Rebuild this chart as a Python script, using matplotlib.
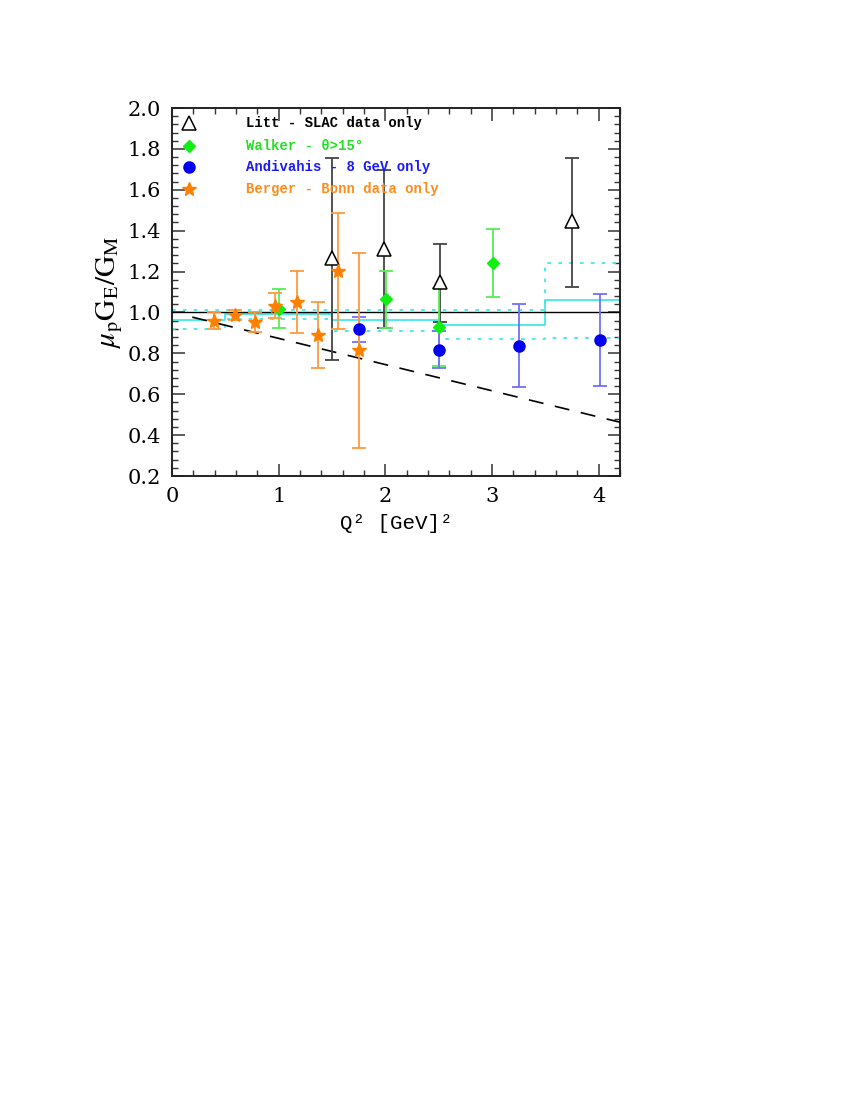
import matplotlib
matplotlib.use("Agg")
import matplotlib.pyplot as plt
from matplotlib.ticker import MultipleLocator

plt.rcParams["mathtext.fontset"] = "stix"

# ---------------- data ----------------
litt_q2 = [1.50, 1.99, 2.51, 3.75]
litt_r = [1.267, 1.31, 1.149, 1.447]
litt_lo = [0.768, 0.924, 0.953, 1.125]
litt_hi = [1.755, 1.697, 1.335, 1.755]

walker_q2 = [1.00, 2.01, 2.50, 3.01]
walker_r = [1.015, 1.066, 0.93, 1.24]
walker_lo = [0.924, 0.926, 0.74, 1.074]
walker_hi = [1.115, 1.205, 1.12, 1.408]

andi_q2 = [1.75, 2.50, 3.25, 4.01]
andi_r = [0.919, 0.817, 0.836, 0.865]
andi_lo = [0.853, 0.727, 0.634, 0.640]
andi_hi = [0.980, 0.909, 1.040, 1.089]

berger_q2 = [0.39, 0.59, 0.78, 0.97, 1.17, 1.37, 1.56, 1.75]
berger_r = [0.960, 0.987, 0.952, 1.032, 1.050, 0.890, 1.205, 0.817]
berger_lo = [0.919, 0.963, 0.903, 0.974, 0.898, 0.729, 0.921, 0.339]
berger_hi = [1.000, 1.014, 1.000, 1.094, 1.201, 1.052, 1.488, 1.292]

# global fit band (step histogram)
bin_edges = [0.0, 0.5, 1.5, 2.5, 3.5, 4.2]
fit_central = [0.963, 0.990, 0.963, 0.940, 1.060]
fit_upper = [1.010, 1.010, 1.010, 1.010, 1.240]
fit_lower = [0.920, 0.967, 0.909, 0.868, 0.874]

# dashed reference line (end points)
dash_x = [0.19, 4.20]
dash_y = [0.977, 0.463]

legend_labels = ["Litt - SLAC data only", "Walker - \u03b8>15\u00b0",
                 "Andivahis - 8 GeV only", "Berger - Bonn data only"]

# ---------------- figure ----------------
fig = plt.figure(figsize=(8.5, 11), dpi=100)
ax = fig.add_axes([172/850, 1-476/1100, (620-172)/850, (476-108)/1100])
ax.set_xlim(0, 4.2)
ax.set_ylim(0.2, 2.0)

def steps(vals):
    xs, ys = [], []
    for i, v in enumerate(vals):
        xs += [bin_edges[i], bin_edges[i+1]]
        ys += [v, v]
    return xs, ys

cyan = "#40e8e8"
x, y = steps(fit_central)
ax.plot(x, y, color=cyan, lw=1.3, zorder=2)
x, y = steps(fit_upper)
ax.plot(x, y, color=cyan, lw=1.3, ls=(0, (2, 4)), zorder=2)
x, y = steps(fit_lower)
ax.plot(x, y, color=cyan, lw=1.3, ls=(0, (2, 4)), zorder=2)

ax.axhline(1.0, color="black", lw=1.0, zorder=3)
ax.plot(dash_x, dash_y, color="black", lw=1.2, ls=(0, (9, 7)), zorder=3)

def eb(xv, yv, lo, hi, ecolor, **kw):
    yerr = [[a - b for a, b in zip(yv, lo)], [b - a for a, b in zip(yv, hi)]]
    ax.errorbar(xv, yv, yerr=yerr, fmt="none", ecolor=ecolor, elinewidth=1.3,
                capsize=5, capthick=1.3, zorder=4)
    ax.plot(xv, yv, ls="none", zorder=5, **kw)

m_litt = dict(marker="^", ms=10, mfc="white", mec="black", mew=1.1)
m_walk = dict(marker="D", ms=6, mfc="#11ee11", mec="#11ee11")
m_andi = dict(marker="o", ms=8, mfc="#0000ee", mec="#0000ee")
m_berg = dict(marker="*", ms=10.5, mfc="#ff8000", mec="#ff8000")

eb(litt_q2, litt_r, litt_lo, litt_hi, "#444444", **m_litt)
eb(walker_q2, walker_r, walker_lo, walker_hi, "#55ee55", **m_walk)
eb(andi_q2, andi_r, andi_lo, andi_hi, "#6f6fff", **m_andi)
eb(berger_q2, berger_r, berger_lo, berger_hi, "#ff9a3c", **m_berg)

# ticks
ax.xaxis.set_major_locator(MultipleLocator(1))
ax.xaxis.set_minor_locator(MultipleLocator(0.2))
ax.yaxis.set_major_locator(MultipleLocator(0.2))
ax.yaxis.set_minor_locator(MultipleLocator(0.04))
ax.tick_params(which="both", direction="in", top=True, right=True, color="#333333")
ax.tick_params(which="major", length=9, width=1.1, labelsize=15, pad=8)
ax.tick_params(which="minor", length=4.5, width=1.0)
ax.set_yticks([0.2, 0.4, 0.6, 0.8, 1.0, 1.2, 1.4, 1.6, 1.8, 2.0])
ax.set_yticklabels(["0.2", "0.4", "0.6", "0.8", "1.0", "1.2", "1.4", "1.6", "1.8", "2.0"])
ax.set_xticks([0, 1, 2, 3, 4])
ax.set_xticklabels(["0", "1", "2", "3", "4"])
for lab in ax.get_xticklabels() + ax.get_yticklabels():
    lab.set_fontfamily("DejaVu Serif")
for s in ax.spines.values():
    s.set_linewidth(1.4)
    s.set_color("#222222")

ax.set_ylabel(r"$\mu_{\rm p}{\rm G}_{\rm E}/{\rm G}_{\rm M}$", fontsize=21, labelpad=2)
ax.set_xlabel("Q\u00b2 [GeV]\u00b2", fontsize=15, family="Liberation Mono", labelpad=6)

# manual legend
leg_markers = [dict(m_litt), dict(m_walk), dict(m_andi), dict(m_berg)]
leg_colors = ["black", "#22e022", "#1a1aff", "#ff8c1a"]
leg_y = [1.927, 1.814, 1.711, 1.604]
for lbl, mk, col, yy in zip(legend_labels, leg_markers, leg_colors, leg_y):
    ax.plot([0.16], [yy], ls="none", zorder=6, **mk)
    ax.text(0.69, yy, lbl, color=col, fontsize=10, family="Liberation Mono",
            fontweight="bold", va="center", ha="left", zorder=6)

fig.savefig("out.png", dpi=100)
